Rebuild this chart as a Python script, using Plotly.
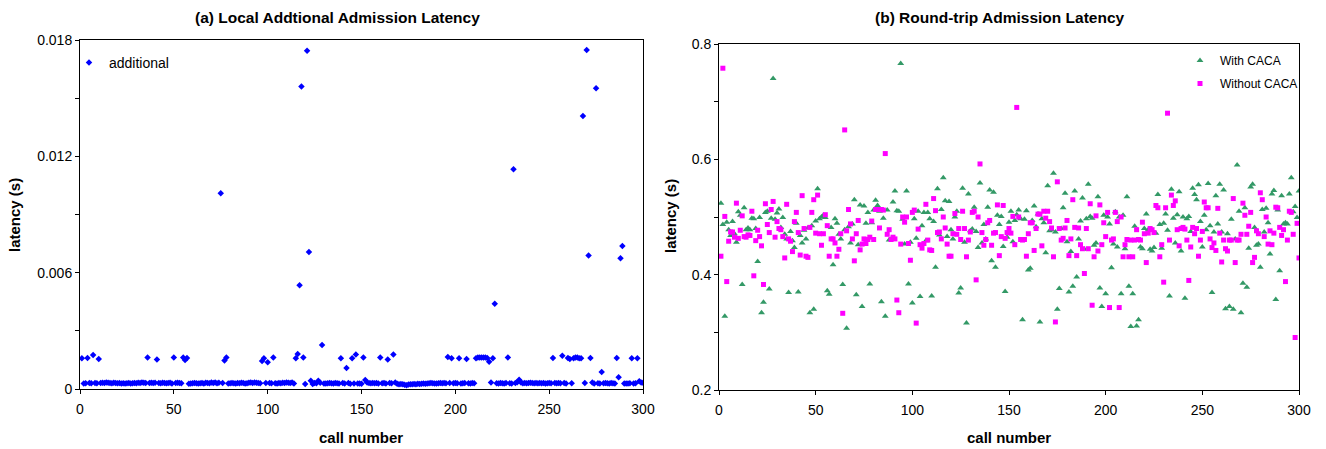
import plotly.graph_objects as go

# ---------------- data ----------------
call_number = list(range(1, 301))

# (a) local additional admission latency (s)
additional = [
    0.00158, 0.00028, 0.00030, 0.00160, 0.00031, 0.00030, 0.00175, 0.00031, 0.00030, 0.00155,
    0.00031, 0.00032, 0.00031, 0.00033, 0.00032, 0.00031, 0.00030, 0.00032, 0.00031, 0.00030,
    0.00031, 0.00029, 0.00030, 0.00028, 0.00030, 0.00031, 0.00029, 0.00030, 0.00031, 0.00030,
    0.00032, 0.00031, 0.00033, 0.00032, 0.00031, 0.00163, 0.00031, 0.00032, 0.00031, 0.00032,
    0.00152, 0.00031, 0.00030, 0.00032, 0.00031, 0.00030, 0.00031, 0.00032, 0.00029, 0.00163,
    0.00031, 0.00032, 0.00031, 0.00030, 0.00162, 0.00150, 0.00160, 0.00027, 0.00028, 0.00030,
    0.00031, 0.00030, 0.00029, 0.00030, 0.00031, 0.00029, 0.00032, 0.00031, 0.00030, 0.00033,
    0.00031, 0.00033, 0.00030, 0.00032, 0.01010, 0.00031, 0.00147, 0.00162, 0.00029, 0.00030,
    0.00031, 0.00030, 0.00029, 0.00031, 0.00030, 0.00032, 0.00031, 0.00029, 0.00030, 0.00032,
    0.00033, 0.00031, 0.00034, 0.00032, 0.00031, 0.00030, 0.00145, 0.00158, 0.00031, 0.00138,
    0.00031, 0.00030, 0.00163, 0.00030, 0.00029, 0.00031, 0.00030, 0.00032, 0.00031, 0.00033,
    0.00032, 0.00031, 0.00033, 0.00028, 0.00158, 0.00180, 0.00535, 0.01560, 0.00162, 0.00026,
    0.01745, 0.00706, 0.00043, 0.00026, 0.00031, 0.00030, 0.00043, 0.00032, 0.00227, 0.00028,
    0.00029, 0.00030, 0.00031, 0.00030, 0.00029, 0.00031, 0.00030, 0.00028, 0.00158, 0.00031,
    0.00029, 0.00108, 0.00031, 0.00027, 0.00158, 0.00028, 0.00178, 0.00029, 0.00028, 0.00027,
    0.00163, 0.00046, 0.00033, 0.00031, 0.00030, 0.00031, 0.00030, 0.00031, 0.00029, 0.00163,
    0.00030, 0.00031, 0.00029, 0.00152, 0.00031, 0.00030, 0.00178, 0.00033, 0.00027, 0.00025,
    0.00026, 0.00024, 0.00022, 0.00019, 0.00023, 0.00025, 0.00024, 0.00026, 0.00025, 0.00027,
    0.00026, 0.00027, 0.00028, 0.00027, 0.00028, 0.00030, 0.00031, 0.00030, 0.00028, 0.00029,
    0.00030, 0.00031, 0.00030, 0.00031, 0.00030, 0.00165, 0.00031, 0.00158, 0.00030, 0.00031,
    0.00030, 0.00158, 0.00029, 0.00030, 0.00031, 0.00155, 0.00030, 0.00029, 0.00031, 0.00030,
    0.00158, 0.00162, 0.00163, 0.00163, 0.00163, 0.00162, 0.00160, 0.00140, 0.00033, 0.00158,
    0.00440, 0.00030, 0.00029, 0.00031, 0.00030, 0.00029, 0.00031, 0.00163, 0.00030, 0.00029,
    0.01133, 0.00031, 0.00035, 0.00048, 0.00033, 0.00030, 0.00031, 0.00030, 0.00031, 0.00032,
    0.00031, 0.00030, 0.00031, 0.00030, 0.00031, 0.00030, 0.00031, 0.00029, 0.00030, 0.00031,
    0.00030, 0.00160, 0.00031, 0.00030, 0.00031, 0.00030, 0.00172, 0.00031, 0.00029, 0.00160,
    0.00155, 0.00030, 0.00158, 0.00163, 0.00163, 0.00158, 0.00158, 0.01408, 0.00031, 0.01749,
    0.00689, 0.00160, 0.00034, 0.00028, 0.01551, 0.00030, 0.00029, 0.00088, 0.00030, 0.00031,
    0.00030, 0.00029, 0.00031, 0.00030, 0.00028, 0.00160, 0.00060, 0.00675, 0.00737, 0.00028,
    0.00029, 0.00028, 0.00030, 0.00158, 0.00029, 0.00030, 0.00158, 0.00040, 0.00033, 0.00032,
]

# (b) round-trip admission latency (s)
with_caca = [
    0.524, 0.487, 0.328, 0.491, 0.478, 0.468, 0.492, 0.471, 0.456, 0.509,
    0.503, 0.383, 0.516, 0.478, 0.481, 0.478, 0.498, 0.497, 0.480, 0.423,
    0.499, 0.334, 0.352, 0.508, 0.510, 0.375, 0.498, 0.740, 0.496, 0.507,
    0.514, 0.482, 0.499, 0.470, 0.462, 0.369, 0.475, 0.459, 0.447, 0.489,
    0.370, 0.468, 0.455, 0.477, 0.462, 0.481, 0.334, 0.485, 0.340, 0.493,
    0.549, 0.497, 0.500, 0.503, 0.499, 0.372, 0.366, 0.482, 0.417, 0.497,
    0.489, 0.470, 0.462, 0.383, 0.478, 0.307, 0.483, 0.455, 0.488, 0.530,
    0.365, 0.452, 0.521, 0.345, 0.519, 0.489, 0.508, 0.384, 0.490, 0.512,
    0.529, 0.520, 0.510, 0.353, 0.498, 0.328, 0.512, 0.460, 0.462, 0.526,
    0.545, 0.511, 0.510, 0.766, 0.496, 0.453, 0.545, 0.384, 0.456, 0.351,
    0.497, 0.463, 0.510, 0.362, 0.485, 0.508, 0.459, 0.508, 0.497, 0.363,
    0.492, 0.413, 0.549, 0.469, 0.513, 0.568, 0.528, 0.466, 0.527, 0.478,
    0.462, 0.500, 0.510, 0.368, 0.377, 0.550, 0.456, 0.316, 0.540, 0.476,
    0.479, 0.517, 0.475, 0.447, 0.559, 0.455, 0.487, 0.462, 0.517, 0.547,
    0.424, 0.543, 0.413, 0.503, 0.487, 0.501, 0.449, 0.371, 0.465, 0.491,
    0.510, 0.457, 0.494, 0.504, 0.512, 0.497, 0.322, 0.496, 0.511, 0.408,
    0.411, 0.494, 0.519, 0.483, 0.505, 0.318, 0.497, 0.490, 0.438, 0.554,
    0.476, 0.478, 0.576, 0.474, 0.340, 0.376, 0.480, 0.516, 0.541, 0.457,
    0.370, 0.440, 0.380, 0.545, 0.396, 0.462, 0.493, 0.533, 0.444, 0.497,
    0.557, 0.501, 0.498, 0.451, 0.455, 0.535, 0.377, 0.345, 0.503, 0.367,
    0.500, 0.488, 0.412, 0.453, 0.509, 0.448, 0.500, 0.367, 0.503, 0.445,
    0.535, 0.380, 0.310, 0.367, 0.484, 0.311, 0.322, 0.448, 0.445, 0.480,
    0.505, 0.478, 0.444, 0.441, 0.447, 0.472, 0.539, 0.487, 0.446, 0.489,
    0.505, 0.477, 0.363, 0.548, 0.498, 0.455, 0.504, 0.544, 0.441, 0.500,
    0.359, 0.497, 0.501, 0.475, 0.550, 0.539, 0.530, 0.556, 0.492, 0.448,
    0.503, 0.478, 0.558, 0.485, 0.369, 0.474, 0.537, 0.488, 0.557, 0.474,
    0.547, 0.341, 0.471, 0.345, 0.496, 0.340, 0.462, 0.590, 0.510, 0.334,
    0.385, 0.516, 0.378, 0.446, 0.552, 0.557, 0.482, 0.451, 0.453, 0.413,
    0.513, 0.474, 0.515, 0.490, 0.436, 0.540, 0.546, 0.357, 0.512, 0.407,
    0.537, 0.488, 0.490, 0.488, 0.540, 0.568, 0.509, 0.518, 0.499, 0.545,
]

without_caca = [
    0.432, 0.758, 0.501, 0.388, 0.458, 0.474, 0.474, 0.465, 0.524, 0.463,
    0.477, 0.502, 0.466, 0.465, 0.469, 0.468, 0.510, 0.398, 0.459, 0.477,
    0.466, 0.450, 0.383, 0.523, 0.487, 0.473, 0.513, 0.527, 0.465, 0.492,
    0.480, 0.478, 0.466, 0.429, 0.522, 0.462, 0.458, 0.440, 0.492, 0.508,
    0.473, 0.434, 0.537, 0.480, 0.432, 0.430, 0.482, 0.508, 0.530, 0.472,
    0.538, 0.471, 0.451, 0.471, 0.504, 0.485, 0.432, 0.462, 0.462, 0.455,
    0.432, 0.444, 0.471, 0.333, 0.651, 0.476, 0.513, 0.488, 0.462, 0.424,
    0.471, 0.494, 0.443, 0.453, 0.462, 0.454, 0.461, 0.465, 0.493, 0.461,
    0.513, 0.513, 0.481, 0.513, 0.512, 0.610, 0.470, 0.478, 0.461, 0.465,
    0.462, 0.356, 0.334, 0.453, 0.500, 0.491, 0.500, 0.454, 0.425, 0.508,
    0.512, 0.316, 0.479, 0.452, 0.446, 0.454, 0.522, 0.460, 0.443, 0.442,
    0.532, 0.511, 0.473, 0.474, 0.462, 0.500, 0.481, 0.453, 0.432, 0.432,
    0.471, 0.506, 0.470, 0.480, 0.461, 0.510, 0.480, 0.431, 0.460, 0.474,
    0.508, 0.510, 0.391, 0.500, 0.592, 0.473, 0.451, 0.461, 0.490, 0.494,
    0.451, 0.472, 0.473, 0.521, 0.433, 0.466, 0.520, 0.463, 0.473, 0.480,
    0.472, 0.501, 0.452, 0.690, 0.500, 0.461, 0.460, 0.461, 0.432, 0.471,
    0.490, 0.490, 0.442, 0.480, 0.505, 0.505, 0.450, 0.510, 0.498, 0.510,
    0.492, 0.481, 0.431, 0.318, 0.561, 0.480, 0.460, 0.463, 0.481, 0.494,
    0.433, 0.462, 0.530, 0.482, 0.433, 0.481, 0.452, 0.445, 0.402, 0.480,
    0.445, 0.523, 0.347, 0.431, 0.502, 0.441, 0.521, 0.452, 0.490, 0.466,
    0.508, 0.343, 0.460, 0.462, 0.508, 0.492, 0.343, 0.500, 0.431, 0.452,
    0.461, 0.431, 0.460, 0.431, 0.460, 0.478, 0.461, 0.460, 0.491, 0.471,
    0.421, 0.472, 0.480, 0.478, 0.473, 0.520, 0.516, 0.431, 0.452, 0.387,
    0.516, 0.680, 0.460, 0.538, 0.520, 0.528, 0.478, 0.450, 0.480, 0.482,
    0.479, 0.460, 0.390, 0.448, 0.482, 0.471, 0.480, 0.432, 0.460, 0.475,
    0.526, 0.516, 0.516, 0.462, 0.447, 0.455, 0.442, 0.515, 0.472, 0.422,
    0.460, 0.445, 0.441, 0.460, 0.460, 0.532, 0.421, 0.460, 0.460, 0.470,
    0.524, 0.503, 0.470, 0.484, 0.508, 0.421, 0.430, 0.476, 0.471, 0.542,
    0.530, 0.466, 0.500, 0.453, 0.476, 0.452, 0.472, 0.517, 0.516, 0.482,
    0.468, 0.478, 0.388, 0.460, 0.510, 0.508, 0.470, 0.291, 0.489, 0.429,
]

x_ticks = [0, 50, 100, 150, 200, 250, 300]
left_y_ticks = [0, 0.006, 0.012, 0.018]
left_y_labels = ["0", "0.006", "0.012", "0.018"]
right_y_ticks = [0.2, 0.4, 0.6, 0.8]
right_y_labels = ["0.2", "0.4", "0.6", "0.8"]

# ---------------- figure ----------------
W, H = 1326, 449
FONT = "Liberation Sans, Arial, sans-serif"

def px(v):
    return v / W

def py(v):
    return 1 - v / H

fig = go.Figure()

fig.add_trace(go.Scatter(
    x=call_number, y=additional, mode="markers", name="additional",
    marker=dict(symbol="diamond", size=5, color="#0000FF", line=dict(width=0)),
    xaxis="x", yaxis="y", legend="legend",
))
fig.add_trace(go.Scatter(
    x=call_number, y=with_caca, mode="markers", name="With CACA",
    marker=dict(symbol="triangle-up", size=6, color="#339966", line=dict(width=0)),
    xaxis="x2", yaxis="y2", legend="legend2", legendgroup="g1",
))
fig.add_trace(go.Scatter(
    x=call_number, y=without_caca, mode="markers", name="Without CACA",
    marker=dict(symbol="square", size=5, color="#FF00FF", line=dict(width=0)),
    xaxis="x2", yaxis="y2", legend="legend2", legendgroup="g2",
))

axis_common = dict(
    showgrid=False, zeroline=False, showline=True, linecolor="black", linewidth=1,
    mirror=True, ticks="outside", ticklen=4, tickcolor="black", automargin=False,
    tickfont=dict(family=FONT, size=14, color="black"),
)

fig.update_layout(
    template="none",
    width=W, height=H,
    margin=dict(l=0, r=0, t=0, b=0, pad=0, autoexpand=False),
    paper_bgcolor="white", plot_bgcolor="white",
    font=dict(family=FONT, color="black"),
    xaxis=dict(domain=[px(80), px(643)], anchor="y", range=[0, 300],
               tickvals=x_ticks, ticklabelstandoff=3, **axis_common),
    yaxis=dict(domain=[py(389), py(40)], anchor="x", range=[0, 0.018],
               tickvals=left_y_ticks, ticktext=left_y_labels,
               minor=dict(dtick=0.003, ticks="outside", ticklen=4, tickcolor="black"),
               **axis_common),
    xaxis2=dict(domain=[px(719), px(1299)], anchor="y2", range=[0, 300],
                tickvals=x_ticks, ticklabelstandoff=3, **axis_common),
    yaxis2=dict(domain=[py(390), py(44)], anchor="x2", range=[0.2, 0.8],
                tickvals=right_y_ticks, ticktext=right_y_labels,
                minor=dict(dtick=0.1, ticks="outside", ticklen=4, tickcolor="black"),
                **axis_common),
    legend=dict(x=px(69), y=py(47), xanchor="left", yanchor="top",
                bgcolor="rgba(0,0,0,0)", borderwidth=0,
                font=dict(family=FONT, size=14), itemwidth=30),
    legend2=dict(x=px(1180), y=py(46), xanchor="left", yanchor="top",
                 bgcolor="rgba(0,0,0,0)", borderwidth=0,
                 font=dict(family=FONT, size=12),
                 itemwidth=30, tracegroupgap=4, traceorder="grouped"),
    showlegend=True,
)

ann = [
    dict(text="<b>(a) Local Addtional Admission Latency</b>", x=px(337), y=py(18),
         font=dict(size=15.5)),
    dict(text="<b>(b) Round-trip Admission Latency</b>", x=px(1000), y=py(18),
         font=dict(size=15.5)),
    dict(text="<b>call number</b>", x=px(361), y=py(437), font=dict(size=15)),
    dict(text="<b>call number</b>", x=px(1009), y=py(437), font=dict(size=15)),
    dict(text="<b>latency (s)</b>", x=px(15), y=py(215), textangle=-90, font=dict(size=15)),
    dict(text="<b>latency (s)</b>", x=px(670), y=py(216), textangle=-90, font=dict(size=15)),
]
for a in ann:
    a.update(xref="paper", yref="paper", showarrow=False, xanchor="center", yanchor="middle")
    a["font"].update(family=FONT, color="black")
fig.update_layout(annotations=ann)

fig.write_html(
    "out.html",
    config={"displayModeBar": False},
    post_script="document.body.style.margin='0';document.body.style.padding='0';",
)
